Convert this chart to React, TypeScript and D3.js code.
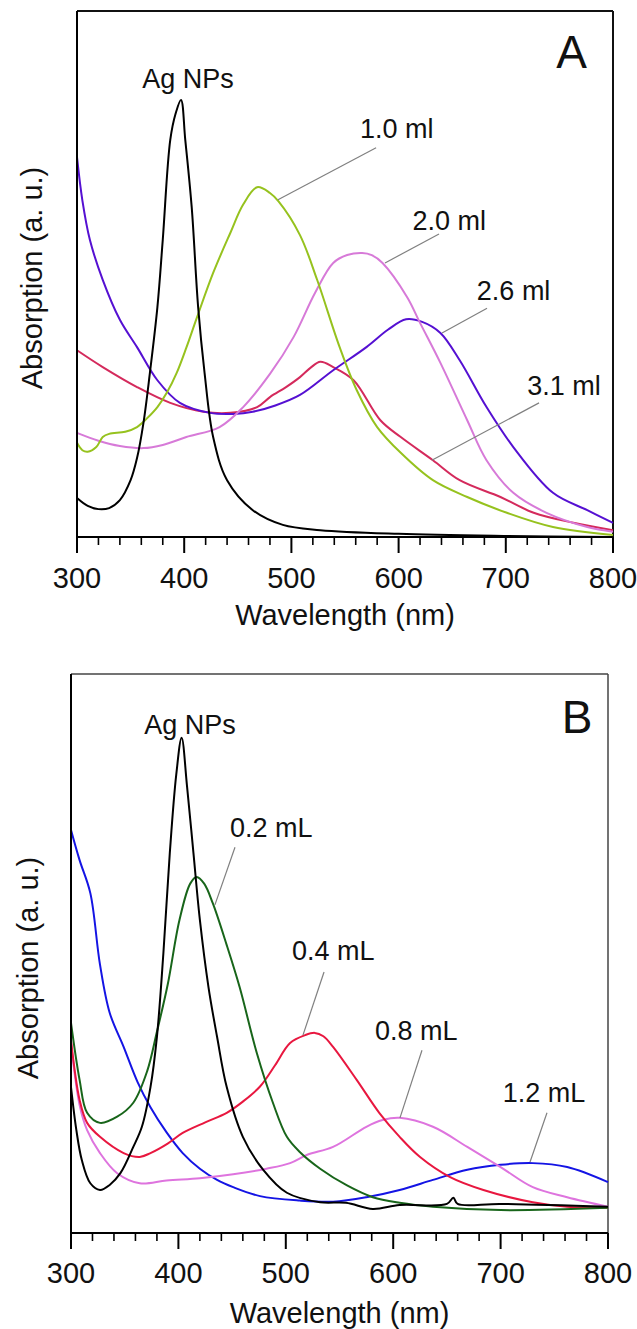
import React from 'react';
import * as d3 from 'd3';

// wavelength (nm), absorption (a. u.)

// Panel A
const agA: [number, number][] = [
  [300, 0.074], [310, 0.059], [320, 0.053], [330, 0.055], [340, 0.07], [350, 0.108],
  [356, 0.15], [362, 0.217], [368, 0.312], [375, 0.437], [380, 0.565], [387, 0.755],
  [392, 0.805], [397, 0.831], [401, 0.755], [407, 0.627], [413, 0.437], [419, 0.312],
  [427, 0.19], [440, 0.108], [464, 0.051], [492, 0.023], [527, 0.013], [600, 0.006],
  [700, 0.002], [800, 0.0],
];
const ml10: [number, number][] = [
  [300, 0.179], [305, 0.165], [310, 0.162], [318, 0.171], [324, 0.19], [330, 0.196],
  [345, 0.2], [356, 0.209], [365, 0.225], [375, 0.247], [384, 0.275], [393, 0.312],
  [402, 0.36], [412, 0.418], [427, 0.502], [443, 0.578], [455, 0.632], [468, 0.665],
  [480, 0.654], [488, 0.638], [508, 0.574], [524, 0.489], [545, 0.361], [561, 0.279],
  [580, 0.209], [602, 0.16], [632, 0.108], [664, 0.076], [701, 0.046], [744, 0.019],
  [800, 0.004],
];
const ml20: [number, number][] = [
  [300, 0.198], [320, 0.183], [340, 0.173], [362, 0.169], [380, 0.175], [402, 0.19],
  [433, 0.209], [455, 0.247], [480, 0.31], [502, 0.38], [522, 0.464], [539, 0.521],
  [552, 0.536], [566, 0.54], [575, 0.536], [585, 0.521], [608, 0.456], [620, 0.407],
  [639, 0.331], [664, 0.222], [682, 0.146], [707, 0.084], [738, 0.046], [776, 0.019],
  [800, 0.01],
];
const ml26: [number, number][] = [
  [300, 0.722], [305, 0.64], [312, 0.565], [324, 0.489], [340, 0.413], [356, 0.361],
  [375, 0.298], [396, 0.255], [424, 0.236], [446, 0.234], [464, 0.238], [485, 0.25],
  [508, 0.27], [539, 0.317], [570, 0.361], [590, 0.394], [607, 0.414], [622, 0.409],
  [639, 0.388], [657, 0.336], [682, 0.247], [707, 0.171], [744, 0.084], [776, 0.051],
  [800, 0.027],
];
const ml31: [number, number][] = [
  [300, 0.355], [324, 0.323], [356, 0.285], [387, 0.255], [418, 0.238], [443, 0.236],
  [468, 0.247], [480, 0.266], [495, 0.285], [508, 0.304], [518, 0.322], [527, 0.333],
  [539, 0.323], [558, 0.298], [583, 0.222], [602, 0.19], [632, 0.146], [657, 0.108],
  [695, 0.076], [726, 0.046], [763, 0.027], [800, 0.013],
];

// Panel B
const agB: [number, number][] = [
  [300, 0.261], [305, 0.184], [310, 0.131], [318, 0.089], [327, 0.077], [336, 0.086],
  [346, 0.107], [358, 0.154], [366, 0.19], [374, 0.261], [380, 0.351], [386, 0.5],
  [392, 0.68], [398, 0.82], [403, 0.886], [408, 0.8], [414, 0.68], [420, 0.56],
  [428, 0.44], [436, 0.351], [445, 0.261], [460, 0.172], [479, 0.113], [501, 0.072],
  [532, 0.055], [556, 0.054], [581, 0.043], [606, 0.05], [650, 0.052], [656, 0.063],
  [660, 0.052], [700, 0.052], [800, 0.047],
];
const mL02: [number, number][] = [
  [300, 0.376], [308, 0.274], [315, 0.215], [327, 0.197], [343, 0.208], [358, 0.233],
  [371, 0.29], [380, 0.36], [390, 0.444], [401, 0.56], [411, 0.625], [417, 0.637],
  [424, 0.625], [432, 0.59], [445, 0.515], [457, 0.44], [473, 0.322], [488, 0.233],
  [501, 0.172], [513, 0.145], [532, 0.115], [557, 0.085], [581, 0.064], [606, 0.054],
  [637, 0.047], [700, 0.041], [800, 0.045],
];
const mL04: [number, number][] = [
  [300, 0.345], [308, 0.238], [315, 0.197], [327, 0.172], [349, 0.143], [364, 0.136],
  [374, 0.143], [390, 0.16], [404, 0.179], [425, 0.198], [445, 0.215], [460, 0.235],
  [476, 0.262], [490, 0.3], [504, 0.34], [518, 0.354], [527, 0.358], [535, 0.352],
  [544, 0.333], [566, 0.274], [587, 0.215], [606, 0.172], [625, 0.136], [653, 0.1],
  [684, 0.077], [730, 0.055], [762, 0.047], [800, 0.045],
];
const mL08: [number, number][] = [
  [300, 0.34], [308, 0.229], [315, 0.184], [327, 0.143], [343, 0.107], [364, 0.089],
  [389, 0.094], [420, 0.098], [451, 0.105], [482, 0.115], [504, 0.125], [520, 0.14],
  [544, 0.154], [575, 0.19], [590, 0.202], [606, 0.206], [637, 0.19], [669, 0.154],
  [700, 0.118], [730, 0.082], [762, 0.064], [800, 0.047],
];
const mL12: [number, number][] = [
  [300, 0.721], [308, 0.667], [318, 0.608], [327, 0.48], [336, 0.394], [349, 0.333],
  [362, 0.27], [374, 0.225], [389, 0.18], [404, 0.143], [420, 0.115], [436, 0.095],
  [451, 0.082], [476, 0.066], [513, 0.058], [544, 0.056], [575, 0.064], [606, 0.077],
  [637, 0.095], [669, 0.113], [700, 0.122], [730, 0.125], [762, 0.118], [800, 0.091],
];

const xTicks = [300, 400, 500, 600, 700, 800];

type Pt = [number, number];
type Series = { data: Pt[]; color: string };
type Note = { text: string; at: Pt; anchor?: string; size?: number; line?: [Pt, Pt] };

const FONT = '"Liberation Sans", Arial, Helvetica, sans-serif';

function Panel(props: {
  box: { left: number; top: number; right: number; bottom: number };
  series: Series[];
  notes: Note[];
  tickBase: number;
  titleBase: number;
  yTitle: Pt;
  thinFrame?: boolean;
}) {
  const { box, series, notes } = props;
  const x = d3.scaleLinear().domain([300, 800]).range([box.left, box.right]);
  const y = d3.scaleLinear().domain([0, 1]).range([box.bottom, box.top]);
  const line = d3
    .line<Pt>()
    .x((d) => x(d[0]))
    .y((d) => y(d[1]))
    .curve(d3.curveCatmullRom.alpha(0.5));
  const minor = d3.range(300, 801, 20).filter((v) => v % 100 !== 0);
  const frameColor = props.thinFrame ? '#444' : '#111';

  return (
    <g fontFamily={FONT}>
      {/* frame: top and right */}
      <line x1={box.left} x2={box.right} y1={box.top} y2={box.top} stroke={frameColor} strokeWidth={props.thinFrame ? 1.5 : 2} />
      <line x1={box.right} x2={box.right} y1={box.top} y2={box.bottom} stroke={frameColor} strokeWidth={props.thinFrame ? 1.5 : 2} />
      {series.map((s, i) => (
        <path key={i} d={line(s.data) || ''} fill="none" stroke={s.color} strokeWidth={2} strokeLinejoin="round" />
      ))}
      {/* axes */}
      <line x1={box.left} x2={box.left} y1={box.top} y2={box.bottom} stroke="#000" strokeWidth={2} />
      <line x1={box.left} x2={box.right} y1={box.bottom} y2={box.bottom} stroke="#000" strokeWidth={2} />
      {xTicks.map((t) => (
        <g key={t}>
          <line x1={x(t)} x2={x(t)} y1={box.bottom} y2={box.bottom + 16} stroke="#000" strokeWidth={2} />
          <text x={x(t)} y={props.tickBase} textAnchor="middle" fontSize={29} fill="#111">
            {t}
          </text>
        </g>
      ))}
      {minor.map((t) => (
        <line key={t} x1={x(t)} x2={x(t)} y1={box.bottom} y2={box.bottom + 8} stroke="#000" strokeWidth={1.6} />
      ))}
      <text x={(box.left + box.right) / 2} y={props.titleBase} textAnchor="middle" fontSize={29} fill="#111">
        Wavelength (nm)
      </text>
      <text
        transform={`translate(${props.yTitle[0]},${props.yTitle[1]}) rotate(-90)`}
        textAnchor="middle"
        fontSize={29}
        fill="#111"
      >
        Absorption (a. u.)
      </text>
      {notes.map((n, i) => (
        <g key={i}>
          {n.line && (
            <line
              x1={x(n.line[0][0])}
              y1={y(n.line[0][1])}
              x2={x(n.line[1][0])}
              y2={y(n.line[1][1])}
              stroke="#808080"
              strokeWidth={1.2}
            />
          )}
          <text x={x(n.at[0])} y={y(n.at[1])} textAnchor={n.anchor || 'start'} fontSize={n.size || 27} fill="#111">
            {n.text}
          </text>
        </g>
      ))}
    </g>
  );
}

const notesA: Note[] = [
  { text: 'Ag NPs', at: [403.5, 0.854], anchor: 'middle' },
  { text: '1.0 ml', at: [564, 0.759], line: [[579, 0.74], [487.5, 0.641]] },
  { text: '2.0 ml', at: [613, 0.584], line: [[637.7, 0.576], [587.3, 0.521]] },
  { text: '2.6 ml', at: [673, 0.451], line: [[682.5, 0.435], [640.5, 0.388]] },
  { text: '3.1 ml', at: [720, 0.27], line: [[731, 0.255], [631, 0.146]] },
  { text: 'A', at: [747, 0.892], size: 46 },
];

const notesB: Note[] = [
  { text: 'Ag NPs', at: [410.8, 0.893], anchor: 'middle' },
  { text: '0.2 mL', at: [448, 0.708], line: [[452.7, 0.69], [434, 0.587]] },
  { text: '0.4 mL', at: [505.8, 0.488], line: [[535.6, 0.467], [516, 0.354]] },
  { text: '0.8 mL', at: [583, 0.345], line: [[626.8, 0.327], [606.3, 0.206]] },
  { text: '1.2 mL', at: [702, 0.234], line: [[743.2, 0.215], [727.4, 0.127]] },
  { text: 'B', at: [757, 0.894], size: 46 },
];

export default function App() {
  return (
    <svg
      width={637}
      height={1329}
      style={{ position: 'absolute', left: 0, top: 0, background: '#fff' }}
    >
      <rect width={637} height={1329} fill="#fff" />
      <Panel
        box={{ left: 77, top: 11, right: 613, bottom: 537 }}
        series={[
          { data: ml31, color: '#d42a5c' },
          { data: ml26, color: '#5510d2' },
          { data: ml20, color: '#d77ad8' },
          { data: ml10, color: '#96c21e' },
          { data: agA, color: '#000000' },
        ]}
        notes={notesA}
        tickBase={588}
        titleBase={625}
        yTitle={[42, 278]}
      />
      <Panel
        box={{ left: 71, top: 674, right: 608, bottom: 1233 }}
        series={[
          { data: mL12, color: '#1414e4' },
          { data: mL08, color: '#de74de' },
          { data: mL04, color: '#e8173f' },
          { data: mL02, color: '#18651a' },
          { data: agB, color: '#000000' },
        ]}
        notes={notesB}
        tickBase={1283}
        titleBase={1323}
        yTitle={[38, 968]}
        thinFrame
      />
    </svg>
  );
}
